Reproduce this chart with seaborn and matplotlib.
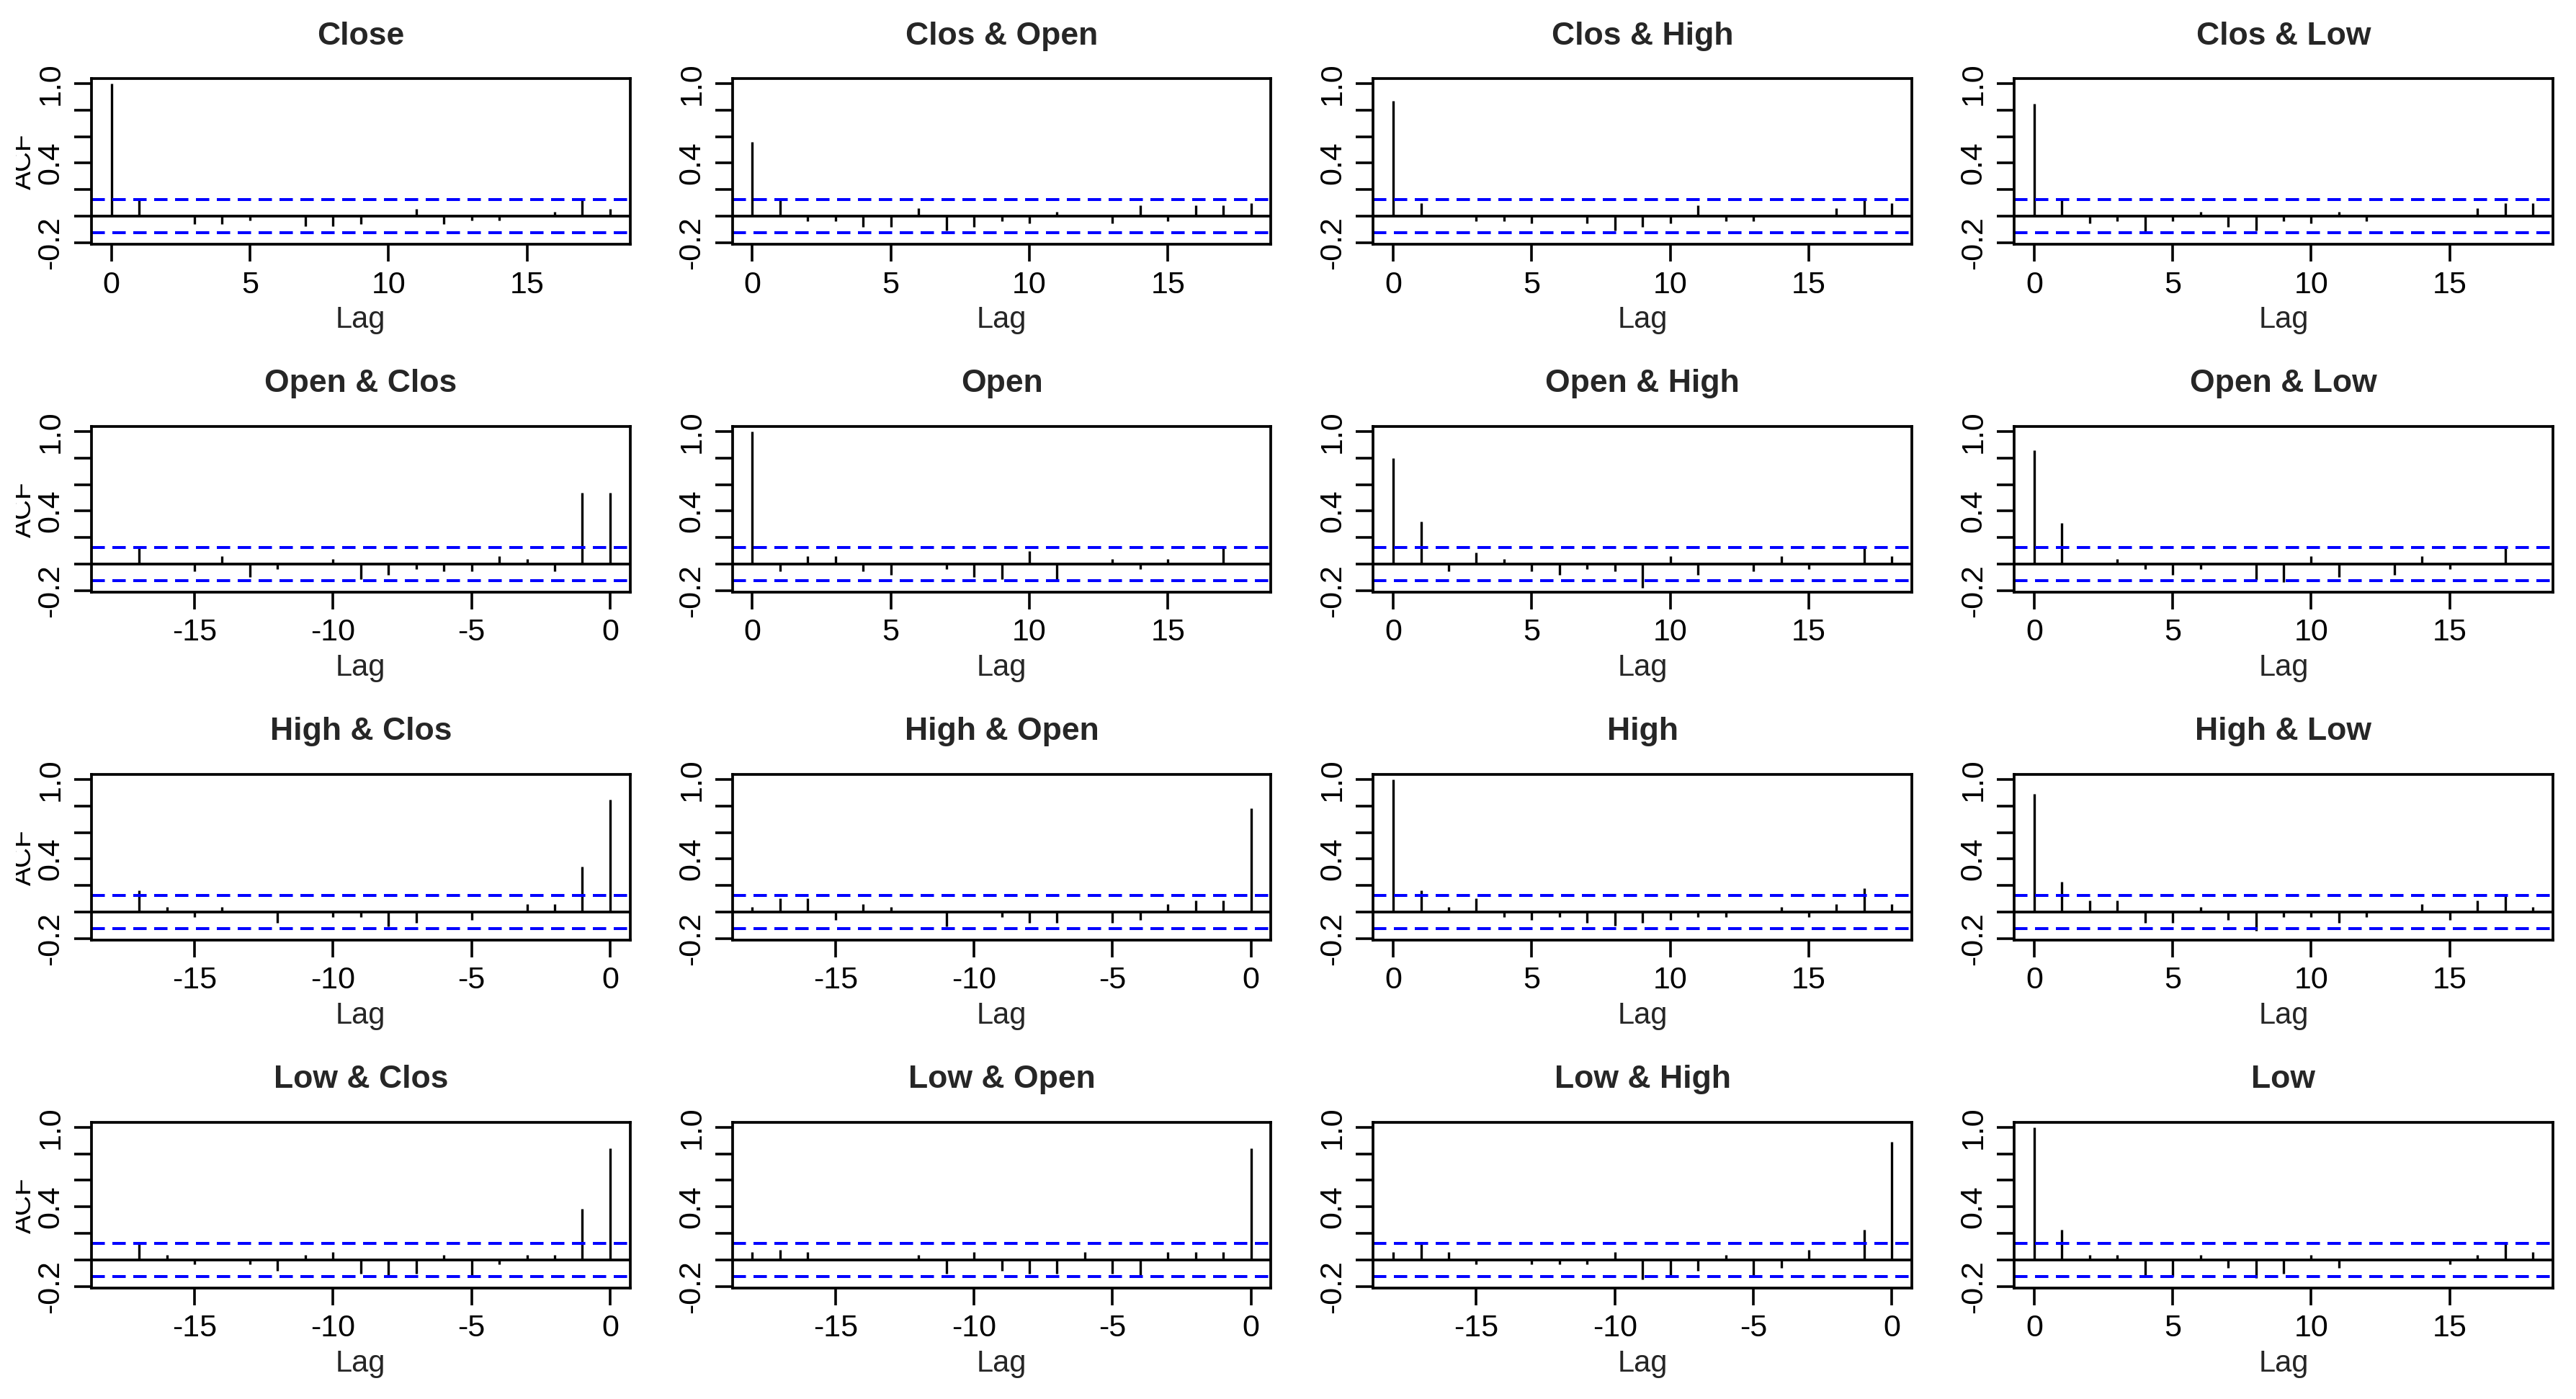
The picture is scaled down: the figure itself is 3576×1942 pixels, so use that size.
import matplotlib.pyplot as plt
import matplotlib.transforms as mtransforms
import seaborn as sns

# panel titles, row by row
titles = ['Close', 'Clos & Open', 'Clos & High', 'Clos & Low',
          'Open & Clos', 'Open', 'Open & High', 'Open & Low',
          'High & Clos', 'High & Open', 'High', 'High & Low',
          'Low & Clos', 'Low & Open', 'Low & High', 'Low']

pos_lags = list(range(0, 19))
neg_lags = list(range(-18, 1))

# acf values (lags 0..18, or -18..0 below the diagonal)
close = [1.0, 0.13, 0.0, -0.058, -0.058, -0.03, 0.0, -0.076, -0.076, -0.058,
         0.0, 0.056, -0.058, -0.03, -0.03, 0.0, 0.033, 0.13, 0.056]
clos_open = [0.56, 0.13, -0.04, -0.04, -0.08, -0.08, 0.06, -0.11, -0.08, -0.04,
             -0.055, 0.03, 0.0, -0.055, 0.08, -0.04, 0.08, 0.08, 0.10]
clos_high = [0.87, 0.10, 0.0, -0.04, -0.04, -0.055, 0.0, -0.055, -0.11, -0.08,
             -0.055, 0.08, -0.04, -0.04, 0.0, 0.0, 0.06, 0.13, 0.10]
clos_low = [0.85, 0.13, -0.055, -0.04, -0.115, -0.04, 0.03, -0.08, -0.11, -0.04,
            -0.055, 0.03, -0.04, 0.0, 0.0, 0.0, 0.06, 0.10, 0.10]

open_clos = [0.0, 0.13, 0.0, -0.055, 0.06, -0.10, -0.037, 0.0, 0.04, -0.115,
             -0.08, -0.037, -0.055, -0.055, 0.06, 0.04, -0.055, 0.54, 0.54]
open_ = [1.0, -0.055, 0.06, 0.06, -0.055, -0.08, 0.0, -0.037, -0.10, -0.115,
         0.10, -0.128, 0.0, 0.04, -0.037, 0.04, 0.0, 0.13, 0.0]
open_high = [0.80, 0.32, -0.055, 0.085, 0.04, -0.055, -0.08, -0.037, -0.055, -0.18,
             0.06, -0.08, 0.0, -0.055, 0.06, -0.037, 0.0, 0.13, 0.06]
open_low = [0.86, 0.31, 0.0, 0.04, -0.037, -0.08, -0.037, 0.0, -0.12, -0.135,
            0.06, -0.10, 0.0, -0.08, 0.06, -0.037, 0.0, 0.13, 0.0]

high_clos = [0.0, 0.165, 0.04, -0.04, 0.04, 0.0, -0.08, 0.0, -0.04, -0.04,
             -0.11, -0.08, 0.0, -0.06, 0.0, 0.06, 0.06, 0.34, 0.85]
high_open = [0.04, 0.10, 0.10, -0.06, 0.06, 0.04, 0.0, -0.11, 0.0, -0.04,
             -0.08, -0.08, 0.0, -0.08, -0.06, 0.06, 0.085, 0.085, 0.78]
high = [1.0, 0.165, 0.04, 0.10, -0.04, -0.06, -0.04, -0.08, -0.105, -0.08,
        -0.06, -0.04, -0.04, 0.0, 0.04, -0.04, 0.06, 0.18, 0.06]
high_low = [0.89, 0.23, 0.085, 0.085, -0.08, -0.08, 0.04, -0.06, -0.14, -0.04,
            -0.04, -0.08, -0.04, 0.0, 0.06, -0.06, 0.085, 0.13, 0.04]

low_clos = [0.0, 0.13, 0.035, -0.035, 0.0, -0.035, -0.08, 0.035, 0.06, -0.105,
            -0.125, -0.105, 0.035, -0.125, -0.035, 0.035, 0.035, 0.385, 0.84]
low_open = [0.06, 0.075, 0.06, 0.0, 0.0, 0.0, 0.035, -0.105, 0.06, -0.08,
            -0.105, -0.105, 0.06, -0.105, -0.125, 0.06, 0.06, 0.06, 0.84]
low_high = [0.06, 0.13, 0.06, -0.035, 0.0, -0.035, -0.035, -0.035, 0.06, -0.15,
            -0.125, -0.08, 0.035, -0.125, -0.06, 0.075, 0.0, 0.227, 0.89]
low = [1.0, 0.227, 0.035, 0.035, -0.125, -0.125, 0.035, -0.06, -0.135, -0.105,
       0.035, -0.06, 0.0, 0.0, 0.0, -0.035, 0.035, 0.13, 0.06]

series = [close, clos_open, clos_high, clos_low,
          open_clos, open_, open_high, open_low,
          high_clos, high_open, high, high_low,
          low_clos, low_open, low_high, low]

conf = 0.125  # approx 95% bound drawn by acf()

yticks = [-0.2, 0.0, 0.2, 0.4, 0.6, 0.8, 1.0]
ytick_labels = ['-0.2', '', '', '0.4', '', '', '1.0']
pos_xticks = [0, 5, 10, 15]
neg_xticks = [-15, -10, -5, 0]

sns.set_style("ticks")
plt.rcParams['font.family'] = ['Liberation Sans', 'DejaVu Sans']
plt.rcParams['axes.unicode_minus'] = False

fig, axes = plt.subplots(4, 4, figsize=(17.88, 9.71), dpi=200)
fig.subplots_adjust(left=0.0355, right=0.991, top=0.944, bottom=0.0793,
                    wspace=0.19, hspace=1.096)

for k, ax in enumerate(axes.flat):
    r, c = divmod(k, 4)
    below = r > c
    lags = neg_lags if below else pos_lags

    ax.vlines(lags, 0, series[k], color='black', lw=1.2)
    ax.axhline(0, color='black', lw=1.35)
    for h in (conf, -conf):
        ax.axhline(h, color='blue', lw=1.45, ls=(0, (4.6, 2.6)))

    ax.set_ylim(-0.213, 1.04)
    if below:
        ax.set_xlim(-18.72, 0.72)
        xt = neg_xticks
    else:
        ax.set_xlim(-0.72, 18.72)
        xt = pos_xticks
    ax.set_xticks(xt)
    ax.set_xticklabels([str(t) for t in xt])
    ax.set_yticks(yticks)
    ax.set_yticklabels(ytick_labels, rotation=90, va='center')

    ax.tick_params(direction='out', length=8.6, width=1.3, labelsize=15.5,
                   pad=4.5, colors='black')
    for s in ax.spines.values():
        s.set_linewidth(1.35)
        s.set_color('black')
        s.set_visible(True)

    ax.set_title(titles[k], fontsize=16, fontweight='bold', pad=17)
    ax.set_xlabel('Lag', fontsize=15, labelpad=3)

    # "ACF" only shows (cut off) on the left column
    if c == 0:
        pos = ax.get_position()
        t = fig.text(0.0143, (pos.y0 + pos.y1) / 2, 'ACF', rotation=90,
                     ha='right', va='center', fontsize=14, color='black')
        clip = mtransforms.TransformedBbox(
            mtransforms.Bbox([[0.0062, 0.0], [1.0, 1.0]]), fig.transFigure)
        t.set_clip_box(clip)
        t.set_clip_on(True)

fig.savefig('out.png', dpi=200, facecolor='white')
